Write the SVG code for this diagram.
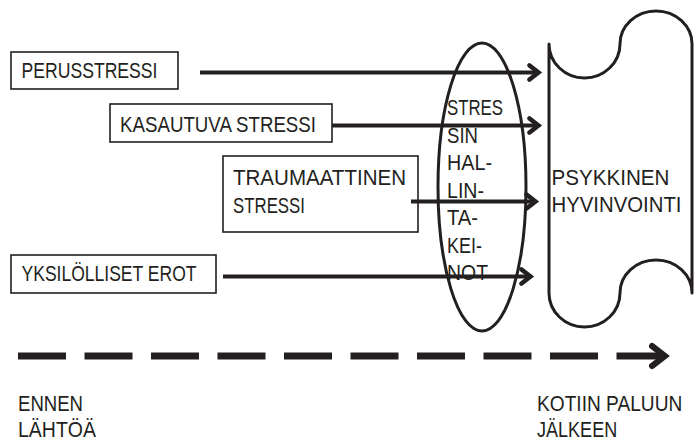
<svg xmlns="http://www.w3.org/2000/svg" width="694" height="441" viewBox="0 0 694 441">
  <style>
    .lbl { font-family: "Liberation Sans", Arial, sans-serif; font-size: 22px; fill: #231f20; }
    .box { fill: #ffffff; stroke: #231f20; stroke-width: 1.6; }
    .arrow { stroke: #231f20; stroke-width: 4; fill: none; marker-end: url(#head); }
    .outline { fill: none; stroke: #231f20; stroke-width: 3; }
  </style>
  <defs>
    <marker id="head" markerUnits="userSpaceOnUse" viewBox="0 0 20 20" markerWidth="20" markerHeight="20" refX="14.5" refY="10" orient="auto">
      <polyline points="5,3 14,10 5,17" fill="none" stroke="#231f20" stroke-width="4.5" stroke-linecap="round" stroke-linejoin="miter"/>
    </marker>
    <marker id="bighead" markerUnits="userSpaceOnUse" viewBox="0 0 30 30" markerWidth="30" markerHeight="30" refX="19" refY="15" orient="auto">
      <polyline points="7,5 20,15 7,25" fill="none" stroke="#231f20" stroke-width="6" stroke-linecap="round" stroke-linejoin="miter"/>
    </marker>
  </defs>

  <rect width="694" height="441" fill="#ffffff"/>

  <!-- stress sources -->
  <g id="perusstressi">
    <rect class="box" x="11" y="52" width="167" height="37"/>
    <text class="lbl" x="21.5" y="78" textLength="136" lengthAdjust="spacingAndGlyphs">PERUSSTRESSI</text>
  </g>
  <g id="kasautuva">
    <rect class="box" x="110" y="104" width="222" height="38"/>
    <text class="lbl" x="120" y="131.5" textLength="196" lengthAdjust="spacingAndGlyphs">KASAUTUVA STRESSI</text>
  </g>
  <g id="traumaattinen">
    <rect class="box" x="223" y="156" width="195" height="76"/>
    <text class="lbl" x="233" y="185" textLength="173" lengthAdjust="spacingAndGlyphs">TRAUMAATTINEN</text>
    <text class="lbl" x="233" y="213" textLength="72" lengthAdjust="spacingAndGlyphs">STRESSI</text>
  </g>
  <g id="yksilolliset">
    <rect class="box" x="11" y="255" width="205" height="38"/>
    <text class="lbl" x="21.5" y="281" textLength="175" lengthAdjust="spacingAndGlyphs">YKSILÖLLISET EROT</text>
  </g>

  <!-- coping filter -->
  <g id="hallintakeinot">
    <ellipse class="outline" cx="482" cy="187" rx="44" ry="144"/>
    <text class="lbl" x="447" y="115" textLength="56" lengthAdjust="spacingAndGlyphs">STRES</text>
    <text class="lbl" x="447" y="142.5" textLength="31" lengthAdjust="spacingAndGlyphs">SIN</text>
    <text class="lbl" x="447" y="170" textLength="45" lengthAdjust="spacingAndGlyphs">HAL-</text>
    <text class="lbl" x="447" y="197.5" textLength="37" lengthAdjust="spacingAndGlyphs">LIN-</text>
    <text class="lbl" x="447" y="225" textLength="31" lengthAdjust="spacingAndGlyphs">TA-</text>
    <text class="lbl" x="447" y="252.5" textLength="35" lengthAdjust="spacingAndGlyphs">KEI-</text>
    <text class="lbl" x="447" y="280" textLength="41" lengthAdjust="spacingAndGlyphs">NOT</text>
  </g>

  <!-- wellbeing scroll -->
  <g id="hyvinvointi">
    <path class="outline" d="M549,44 A35.5,34 0 0 0 620,44 A36,33 0 0 1 692,44 L692,293 A36,33 0 0 0 620,293 A35.5,34 0 0 1 549,293 Z" stroke-linejoin="round"/>
    <text class="lbl" x="551.5" y="185" textLength="118" lengthAdjust="spacingAndGlyphs">PSYKKINEN</text>
    <text class="lbl" x="551.5" y="212" textLength="130" lengthAdjust="spacingAndGlyphs">HYVINVOINTI</text>
  </g>

  <!-- connectors -->
  <g id="connectors">
    <line class="arrow" x1="200" y1="72.5" x2="539" y2="72.5"/>
    <line class="arrow" x1="332" y1="125.5" x2="539" y2="125.5"/>
    <line class="arrow" x1="411" y1="201.5" x2="536" y2="201.5"/>
    <line class="arrow" x1="223" y1="276.5" x2="531" y2="276.5"/>
    <line x1="18" y1="356" x2="664" y2="356" stroke="#231f20" stroke-width="7" stroke-dasharray="48 18.5" marker-end="url(#bighead)"/>
  </g>

  <!-- timeline labels; the right pair is squeezed horizontally to fit the page -->
  <g id="ennen">
    <text class="lbl" x="18" y="411" textLength="65" lengthAdjust="spacingAndGlyphs">ENNEN</text>
    <text class="lbl" x="18" y="437" textLength="78" lengthAdjust="spacingAndGlyphs">LÄHTÖÄ</text>
  </g>
  <g id="jalkeen">
    <text class="lbl" transform="translate(537,411) scale(0.87,1)">KOTIIN PALUUN</text>
    <text class="lbl" transform="translate(537,437) scale(0.82,1)">JÄLKEEN</text>
  </g>
</svg>
